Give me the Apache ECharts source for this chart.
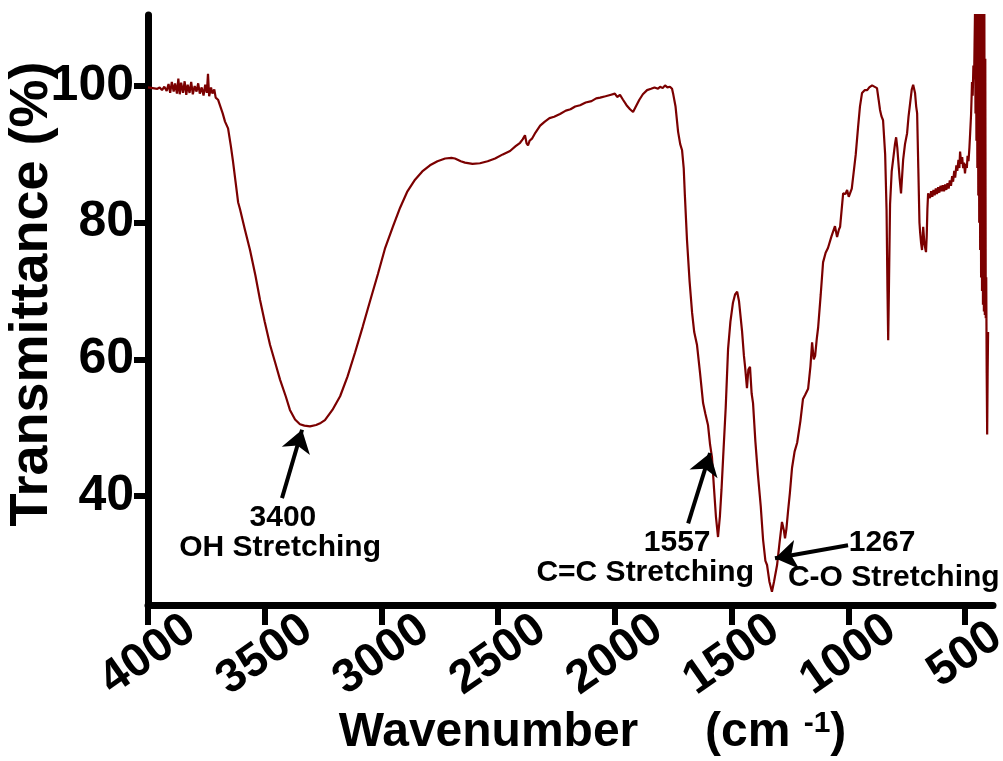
<!DOCTYPE html>
<html><head><meta charset="utf-8">
<script src="https://cdn.jsdelivr.net/npm/echarts@6/dist/echarts.min.js"></script>
<style>html,body{margin:0;padding:0;background:#fff}#chart{width:1003px;height:761px}</style>
</head><body><div id="chart"></div>
<script>
// FTIR spectrum: [wavenumber (cm-1), transmittance (%)]
const spectrum = [
[4000,99.8],[3980,99.7],[3960,99.6],[3950,99.8],[3940,99.4],[3930,99.9],[3920,99.3],[3912,100.3],[3905,99.0],[3898,100.6],[3890,99.2],[3884,100.4],[3876,98.9],[3870,101.1],[3864,98.8],[3858,100.5],[3850,99.0],[3843,100.7],[3836,98.7],[3830,100.2],[3822,99.0],[3815,100.6],[3808,98.8],[3800,100.0],[3792,99.2],[3785,100.4],[3778,98.9],[3770,99.8],[3762,98.6],[3755,100.2],[3748,99.0],[3743,101.8],[3738,98.5],[3730,99.8],[3724,98.9],[3716,99.5],[3710,98.3],[3700,98.0],[3692,97.2],[3680,96.0],[3670,94.8],[3657,93.8],[3645,91.2],[3636,89.0],[3625,86.0],[3614,83.0],[3606,82.0],[3585,79.0],[3563,76.0],[3540,72.3],[3520,68.7],[3500,65.5],[3477,62.1],[3455,59.5],[3434,57.0],[3410,54.6],[3392,52.6],[3370,51.2],[3349,50.5],[3330,50.3],[3306,50.2],[3280,50.4],[3260,50.7],[3242,51.1],[3210,52.6],[3177,54.6],[3145,57.5],[3113,61.0],[3080,64.8],[3049,68.5],[3015,72.5],[2985,76.2],[2950,79.5],[2920,82.2],[2890,84.5],[2856,86.3],[2825,87.5],[2792,88.4],[2760,89.0],[2727,89.4],[2700,89.5],[2685,89.4],[2660,89.0],[2642,88.8],[2610,88.6],[2578,88.7],[2545,89.0],[2513,89.4],[2480,90.0],[2449,90.5],[2425,91.2],[2406,91.7],[2395,92.2],[2385,92.8],[2378,91.6],[2372,91.3],[2365,92.0],[2355,92.3],[2340,93.2],[2320,94.2],[2300,94.8],[2280,95.3],[2260,95.5],[2235,95.9],[2210,96.4],[2190,96.6],[2170,97.0],[2149,97.2],[2125,97.6],[2100,97.8],[2080,98.2],[2063,98.3],[2040,98.5],[2020,98.7],[2000,98.9],[1990,98.4],[1978,98.7],[1965,98.0],[1950,97.2],[1935,96.6],[1922,96.2],[1910,97.0],[1895,98.0],[1880,98.8],[1862,99.4],[1845,99.6],[1830,99.8],[1815,99.6],[1806,99.9],[1795,99.7],[1785,100.1],[1775,99.8],[1764,99.9],[1755,99.6],[1751,99.0],[1740,97.0],[1729,93.3],[1720,91.5],[1712,90.6],[1705,88.0],[1700,84.0],[1691,77.5],[1680,71.5],[1669,66.8],[1660,64.0],[1648,62.1],[1635,58.0],[1622,53.6],[1612,52.0],[1601,50.4],[1592,47.5],[1584,45.7],[1575,41.0],[1567,37.0],[1558,34.0],[1550,37.0],[1543,41.0],[1536,45.7],[1525,53.0],[1515,61.5],[1505,65.5],[1494,68.3],[1485,69.5],[1476,69.9],[1468,68.5],[1455,64.1],[1447,60.5],[1442,58.9],[1434,55.8],[1428,58.5],[1421,58.9],[1414,55.0],[1408,53.6],[1398,48.0],[1387,43.1],[1375,38.5],[1365,33.6],[1355,30.5],[1348,29.9],[1338,27.5],[1327,26.0],[1318,27.5],[1305,29.9],[1295,33.0],[1284,36.2],[1276,35.0],[1271,33.8],[1265,35.2],[1258,37.8],[1250,40.5],[1241,44.1],[1230,46.5],[1219,47.8],[1205,51.0],[1194,54.2],[1185,54.8],[1172,55.7],[1162,59.0],[1155,62.5],[1148,60.0],[1142,60.5],[1135,63.0],[1129,64.7],[1118,69.5],[1108,74.2],[1097,75.6],[1087,76.3],[1072,78.0],[1057,79.5],[1048,77.9],[1040,79.0],[1035,79.4],[1022,84.3],[1012,84.2],[1005,84.8],[998,83.8],[992,83.8],[985,85.0],[979,85.2],[968,90.0],[958,94.0],[950,97.0],[941,99.0],[930,99.4],[919,99.4],[910,99.8],[898,100.1],[890,99.9],[877,99.7],[870,98.0],[864,96.5],[858,95.6],[851,95.0],[842,90.0],[836,81.9],[832,70.0],[829,62.8],[826,70.0],[821,82.7],[814,87.5],[808,89.2],[800,91.5],[795,92.5],[790,91.0],[787,89.6],[780,86.5],[774,84.3],[769,87.0],[765,89.2],[757,91.5],[748,93.1],[742,95.5],[735,97.5],[728,99.5],[722,100.2],[718,100.4],[714,99.0],[709,97.0],[705,96.0],[700,88.0],[695,80.0],[692,78.5],[688,77.0],[684,76.0],[681,78.0],[679,79.4],[674,77.0],[670,76.2],[667,75.7],[664,78.0],[661,82.0],[658,84.3],
[650,83.6],[645,84.6],[640,83.8],[635,84.8],[630,84.0],[625,85.0],[620,84.2],[615,85.2],[610,84.4],[605,85.4],[600,84.6],[595,85.5],[590,84.6],[585,85.6],[580,84.8],[575,85.8],[570,85.0],[565,86.2],[560,85.4],[555,86.8],[551,86.0],[546,87.6],[542,86.6],[537,88.4],[533,87.6],[528,89.2],[524,88.0],[521,90.4],[516,88.6],[512,89.6],[508,88.0],[504,88.8],[500,87.2],[496,88.6],[492,88.0],[489,89.8],[485,89.0],[481,91.0],[478,93.0],[474,95.8],[472,98.0],[470,100.6],[467,98.6],[464,103.0],[461,101.0],[459,106.0],[457,111.0],[455,96.0],[453,111.0],[451,92.0],[449,111.0],[447,88.0],[445,111.0],[443,84.0],[441,111.0],[439,80.0],[437,111.0],[435,76.0],[433,111.0],[431,72.0],[429,111.0],[427,70.0],[425,111.0],[423,68.0],[421,111.0],[419,67.0],[417,111.0],[415,66.5],[413,104.0],[411,66.0],[409,72.0],[407,58.0],[405,49.0],[403,58.0],[401,64.0]
];
const xTickValues = [4000, 3500, 3000, 2500, 2000, 1500, 1000, 500];
const yTickValues = [40, 60, 80, 100];
const arrowStarts = [[3426, 39.7], [1686, 36.0], [1001, 32.8]];
const arrowEnds   = [[3340, 49.7], [1592, 46.3], [1314, 30.9]];
const noteTexts = ['3400', 'OH Stretching', '1557', 'C=C Stretching', '1267', 'C-O Stretching'];
const notePositions = [[3422, 36.8], [3434, 32.4], [1733, 33.1], [1870, 28.7], [855, 33.1], [805, 28.1]];

const FONT = '"Liberation Sans", Arial, sans-serif';
const chart = echarts.init(document.getElementById('chart'), null, {renderer: 'canvas'});
chart.setOption({
  animation: false,
  backgroundColor: '#fff',
  grid: {left: 148, right: 10, top: 15, bottom: 156, containLabel: false, outerBoundsMode: 'none'},
  xAxis: {
    type: 'value', inverse: true, min: 380, max: 4000,
    axisLine: {show: true, onZero: false, lineStyle: {color: '#000', width: 7}},
    axisTick: {show: true, length: 20, customValues: xTickValues, lineStyle: {color: '#000', width: 6}},
    axisLabel: {customValues: xTickValues, formatter: v => String(v), rotate: 35, margin: 50, align: 'center', verticalAlign: 'middle',
      fontSize: 47, fontWeight: 'bold', color: '#000', fontFamily: FONT},
    splitLine: {show: false},
    name: '{w|Wavenumber}{w|     (cm }{sup|-1}{w|)}',
    nameLocation: 'middle', nameGap: 104, nameMoveOverlap: false,
    nameTextStyle: {padding: [0, 0, 0, 44], rich: {
      w: {fontSize: 48, fontWeight: 'bold', color: '#000', fontFamily: FONT},
      sup: {fontSize: 30, fontWeight: 'bold', color: '#000', fontFamily: FONT, verticalAlign: 'top'}
    }}
  },
  yAxis: {
    type: 'value', min: 24.05, max: 110.4,
    axisLine: {show: true, onZero: false, lineStyle: {color: '#000', width: 7}},
    axisTick: {show: true, length: 14, customValues: yTickValues, lineStyle: {color: '#000', width: 6}},
    axisLabel: {customValues: yTickValues, formatter: v => String(v), margin: 14, fontSize: 50, fontWeight: 'bold', color: '#000', fontFamily: FONT},
    splitLine: {show: false},
    name: 'Transmittance (%)', nameLocation: 'middle', nameGap: 89, nameMoveOverlap: false,
    nameTextStyle: {padding: [0, 0, 0, 32], fontSize: 54, fontWeight: 'bold', color: '#000', fontFamily: FONT}
  },
  series: [{
    type: 'line', data: spectrum, showSymbol: false, symbol: 'none',
    lineStyle: {color: '#7b0000', width: 2.2}, clip: true,
    markLine: {
      silent: true, symbol: ['none', 'arrow'], symbolSize: 22,
      lineStyle: {color: '#000', width: 4, type: 'solid'},
      label: {show: false},
      data: arrowStarts.map((s, i) => [{coord: s}, {coord: arrowEnds[i]}])
    },
    markPoint: {
      silent: true, symbol: 'circle', symbolSize: 1,
      itemStyle: {color: 'rgba(0,0,0,0)'},
      label: {show: true, position: 'inside', color: '#000', fontSize: 30, fontWeight: 'bold', fontFamily: FONT},
      data: noteTexts.map((t, i) => ({coord: notePositions[i], value: t, label: {formatter: t}}))
    }
  }]
});
</script></body></html>
